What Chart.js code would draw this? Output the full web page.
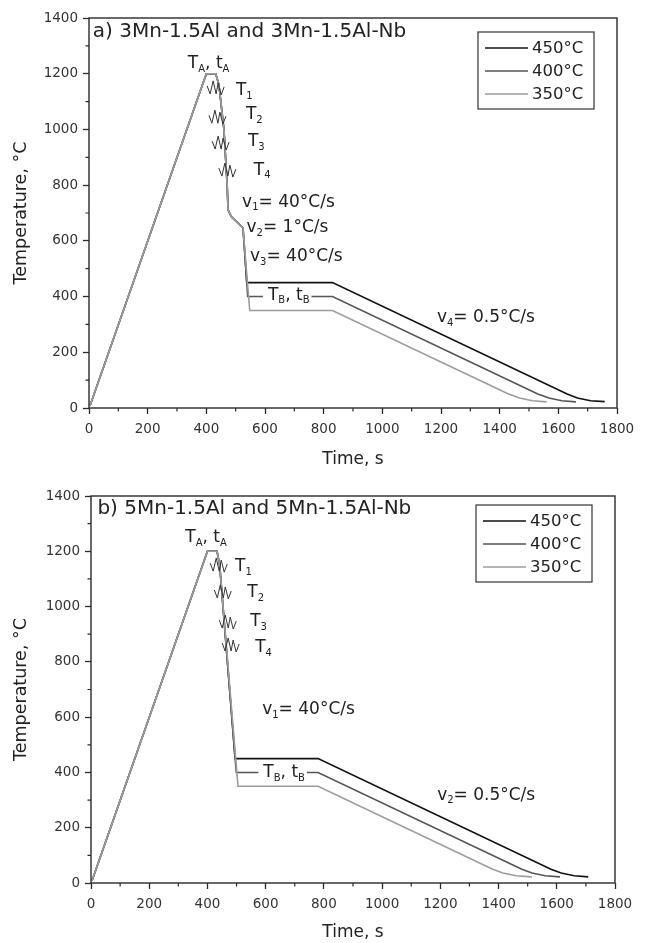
<!DOCTYPE html>
<html>
<head>
<meta charset="utf-8">
<script src="https://cdn.jsdelivr.net/npm/chart.js@4.4.1/dist/chart.umd.min.js"></script>
<style>
  html, body { margin: 0; padding: 0; background: #fff; }
  canvas { display: block; }
</style>
</head>
<body>
<canvas id="chartA" width="647" height="470"></canvas>
<canvas id="chartB" width="647" height="473"></canvas>
<script>
// axis ticks
const timeTicks = [0, 200, 400, 600, 800, 1000, 1200, 1400, 1600, 1800];
const tempTicks = [0, 200, 400, 600, 800, 1000, 1200, 1400];
const timeMinor = [100, 300, 500, 700, 900, 1100, 1300, 1500, 1700];
const tempMinor = [100, 300, 500, 700, 900, 1100, 1300];

const seriesLabels = ['450°C', '400°C', '350°C'];
const lineColors = ['#111111', '#555555', '#9c9c9c'];

// panel a: [time s, temperature °C]
const a450 = [[4, 10], [400, 1200], [432, 1200], [443, 1160], [460, 1000], [471, 800], [474, 712], [478, 702], [486, 686], [525, 647], [538, 450], [830, 450], [1630, 50], [1665, 36], [1710, 26], [1758, 23]];
const a400 = [[4, 10], [400, 1200], [432, 1200], [443, 1160], [460, 1000], [471, 800], [474, 712], [478, 702], [486, 686], [525, 647], [541, 400], [830, 400], [1530, 50], [1568, 36], [1612, 26], [1660, 22]];
const a350 = [[4, 10], [400, 1200], [432, 1200], [443, 1160], [460, 1000], [471, 800], [474, 712], [478, 702], [486, 686], [525, 647], [548, 350], [830, 350], [1430, 50], [1468, 36], [1512, 26], [1560, 22]];

// panel b
const b450 = [[4, 10], [400, 1200], [433, 1200], [442, 1150], [495, 450], [780, 450], [1580, 50], [1615, 36], [1660, 26], [1708, 22]];
const b400 = [[4, 10], [400, 1200], [433, 1200], [442, 1150], [499, 400], [780, 400], [1480, 50], [1515, 36], [1560, 26], [1611, 22]];
const b350 = [[4, 10], [400, 1200], [433, 1200], [442, 1150], [505, 350], [780, 350], [1380, 50], [1415, 36], [1460, 26], [1515, 22]];

// text notes: [text, time, temp, size, boxed]   ("_" = next char subscript)
const notesA = [
    ['a) 3Mn-1.5Al and 3Mn-1.5Al-Nb', 13, 1350, 20],
    ['T_A, t_A', 337, 1235, 17],
    ['T_1', 501, 1138, 17],
    ['T_2', 535, 1052, 17],
    ['T_3', 542, 955, 17],
    ['T_4', 562, 854, 17],
    ['v_1= 40°C/s', 522, 739, 17],
    ['v_2= 1°C/s', 537, 646, 17],
    ['v_3= 40°C/s', 549, 542, 17],
    ['T_B, t_B', 610, 405, 17, true],
    ['v_4= 0.5°C/s', 1186, 323, 17]
];
const notesB = [
    ['b) 5Mn-1.5Al and 5Mn-1.5Al-Nb', 22, 1353, 20],
    ['T_A, t_A', 324, 1248, 17],
    ['T_1', 495, 1143, 17],
    ['T_2', 537, 1049, 17],
    ['T_3', 547, 944, 17],
    ['T_4', 564, 850, 17],
    ['v_1= 40°C/s', 588, 626, 17],
    ['T_B, t_B', 592, 398, 17, true],
    ['v_2= 0.5°C/s', 1189, 318, 17]
];

// deformation marks (zigzags)
const zigsA = [[430, 1149], [436, 1044], [447, 951], [470, 854]];
const zigsB = [[437, 1150], [451, 1053], [468, 944], [478, 861]];

const FONT = '"DejaVu Sans", sans-serif';
const zigShape = [[-8, -2], [-5, 6], [-2, -7], [1, 6], [3, -5], [6, 7], [9, -1]];

function richRun(ctx, str, x, y, size, draw) {
    let cx = x;
    for (let i = 0; i < str.length; i++) {
        let ch = str[i];
        let sub = false;
        if (ch === '_' && i + 1 < str.length) {
            ch = str[++i];
            sub = true;
        }
        ctx.font = (sub ? Math.round(size * 0.58) : size) + 'px ' + FONT;
        if (draw) ctx.fillText(ch, cx, sub ? y + size * 0.32 : y);
        cx += ctx.measureText(ch).width;
    }
    return cx - x;
}

function decorPlugin(notes, zigs, legendTop) {
    return {
        id: 'decor',
        afterDatasetsDraw(chart) {
            const ctx = chart.ctx;
            const area = chart.chartArea;
            const xs = chart.scales.x;
            const ys = chart.scales.y;
            ctx.save();

            // frame
            ctx.strokeStyle = '#2a2a2a';
            ctx.lineWidth = 1.4;
            ctx.strokeRect(area.left, area.top, area.right - area.left, area.bottom - area.top);

            // minor ticks
            ctx.lineWidth = 1.2;
            ctx.beginPath();
            timeMinor.forEach(v => {
                const px = xs.getPixelForValue(v);
                ctx.moveTo(px, area.bottom);
                ctx.lineTo(px, area.bottom + 3.5);
            });
            tempMinor.forEach(v => {
                const py = ys.getPixelForValue(v);
                ctx.moveTo(area.left, py);
                ctx.lineTo(area.left - 3.5, py);
            });
            ctx.stroke();

            // zigzags
            ctx.strokeStyle = '#333';
            ctx.lineWidth = 1;
            zigs.forEach(z => {
                const cx = xs.getPixelForValue(z[0]);
                const cy = ys.getPixelForValue(z[1]);
                ctx.beginPath();
                zigShape.forEach((p, i) => {
                    if (i === 0) ctx.moveTo(cx + p[0], cy + p[1]);
                    else ctx.lineTo(cx + p[0], cy + p[1]);
                });
                ctx.stroke();
            });

            // notes
            ctx.textBaseline = 'middle';
            ctx.textAlign = 'left';
            notes.forEach(n => {
                const x = xs.getPixelForValue(n[1]);
                const y = ys.getPixelForValue(n[2]);
                if (n[4]) {
                    const w = richRun(ctx, n[0], x, y, n[3], false);
                    ctx.fillStyle = '#fff';
                    ctx.fillRect(x - 5, y - 10, w + 7, 22);
                }
                ctx.fillStyle = '#222';
                richRun(ctx, n[0], x, y, n[3], true);
            });

            // legend
            const bx = area.right - 139;
            const by = area.top + legendTop;
            ctx.fillStyle = '#fff';
            ctx.fillRect(bx, by, 116, 77);
            ctx.strokeStyle = '#333';
            ctx.lineWidth = 1.2;
            ctx.strokeRect(bx, by, 116, 77);
            seriesLabels.forEach((label, i) => {
                const ry = by + 16 + i * 23;
                ctx.strokeStyle = lineColors[i];
                ctx.lineWidth = 1.6;
                ctx.beginPath();
                ctx.moveTo(bx + 7, ry);
                ctx.lineTo(bx + 50, ry);
                ctx.stroke();
                ctx.fillStyle = '#222';
                ctx.font = '16.5px ' + FONT;
                ctx.fillText(label, bx + 54, ry + 1);
            });
            ctx.restore();
        }
    };
}

function makePanel(canvasId, series, notes, zigs, lay) {
    const ctx = document.getElementById(canvasId).getContext('2d');
    const datasets = series.map((pts, i) => ({
        label: seriesLabels[i],
        data: pts.map(p => ({ x: p[0], y: p[1] })),
        borderColor: lineColors[i],
        borderWidth: 1.6,
        pointRadius: 0,
        tension: 0,
        fill: false,
        order: 3 - i   // 350°C drawn on top
    }));

    return new Chart(ctx, {
        type: 'line',
        data: { datasets: datasets },
        options: {
            responsive: false,
            animation: false,
            events: [],
            layout: { padding: { top: lay.top, right: lay.right, left: 0, bottom: 0 } },
            plugins: {
                legend: { display: false },
                tooltip: { enabled: false }
            },
            scales: {
                x: {
                    type: 'linear',
                    min: 0,
                    max: 1800,
                    border: { display: false },
                    grid: { drawOnChartArea: false, drawTicks: true, tickLength: 6, tickColor: '#2a2a2a', tickWidth: 1.3 },
                    ticks: { color: '#333', font: { family: FONT, size: 13.5 }, padding: 7, maxRotation: 0, autoSkip: false, callback: v => String(v) },
                    title: { display: true, text: 'Time, s', color: '#222', font: { family: FONT, size: 17 }, padding: { top: 0, bottom: 0 } },
                    afterBuildTicks: s => { s.ticks = timeTicks.map(v => ({ value: v })); },
                    afterFit: s => { s.height = lay.xh; s.paddingLeft = 0; s.paddingRight = 0; }
                },
                y: {
                    type: 'linear',
                    min: 0,
                    max: 1400,
                    border: { display: false },
                    grid: { drawOnChartArea: false, drawTicks: true, tickLength: 6, tickColor: '#2a2a2a', tickWidth: 1.3 },
                    ticks: { color: '#333', font: { family: FONT, size: 13.5 }, padding: 5, autoSkip: false, callback: v => String(v) },
                    title: { display: true, text: 'Temperature, °C', color: '#222', font: { family: FONT, size: 17.5 }, padding: { top: 11, bottom: 0 } },
                    afterBuildTicks: s => { s.ticks = tempTicks.map(v => ({ value: v })); },
                    afterFit: s => { s.width = lay.yw; s.paddingTop = 0; s.paddingBottom = 0; }
                }
            }
        },
        plugins: [decorPlugin(notes, zigs, lay.legendTop)]
    });
}

makePanel('chartA', [a450, a400, a350], notesA, zigsA, { top: 18, right: 30, yw: 89, xh: 62, legendTop: 14 });
makePanel('chartB', [b450, b400, b350], notesB, zigsB, { top: 26, right: 32, yw: 91, xh: 60, legendTop: 9 });
</script>
</body>
</html>
